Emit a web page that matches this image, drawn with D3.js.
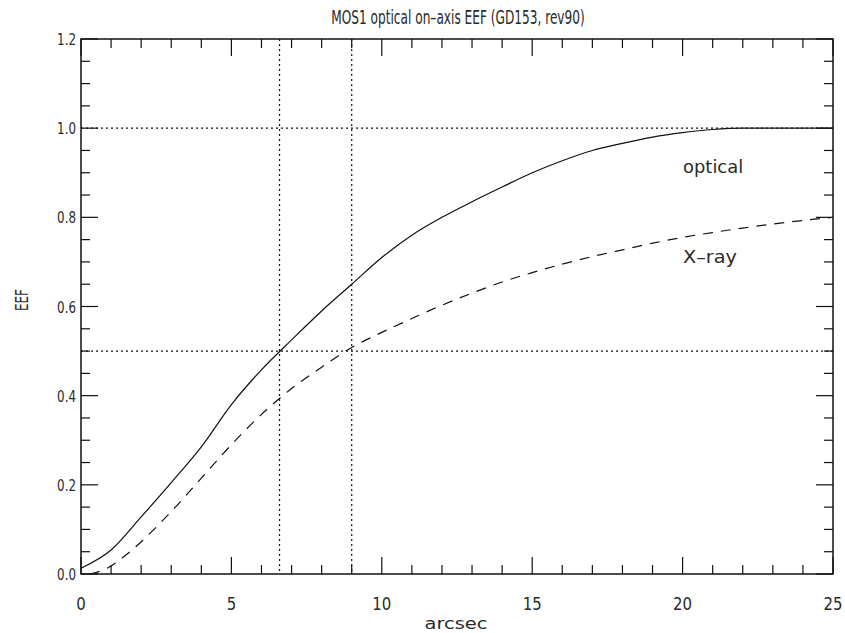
<!DOCTYPE html>
<html>
<head>
<meta charset="utf-8">
<script src="https://cdn.jsdelivr.net/npm/d3@7"></script>
<style>
  body { margin: 0; background: #fff; }
  svg text { font-family: "DejaVu Sans", sans-serif; fill: #2a2a2a; }
</style>
</head>
<body>
<svg id="chart" width="845" height="633"></svg>
<script>
const opticalX = [0, 1, 2, 3, 4, 5, 6, 7, 8, 9, 10, 11, 12, 13, 14, 15, 16, 17, 18, 19, 20, 21, 22, 25];
const opticalY = [0.013, 0.054, 0.128, 0.205, 0.285, 0.38, 0.458, 0.525, 0.59, 0.65, 0.71, 0.76, 0.80, 0.835, 0.868, 0.9, 0.927, 0.95, 0.966, 0.98, 0.99, 0.997, 1.0, 1.0];
const xrayX = [0.3, 0.9, 1.5, 2.5, 3, 4, 5, 6, 7, 8, 9, 10, 11, 12, 13, 14, 15, 16, 17, 18, 19, 20, 21, 22, 23, 24, 25];
const xrayY = [0.0, 0.014, 0.043, 0.105, 0.14, 0.215, 0.29, 0.358, 0.416, 0.464, 0.508, 0.542, 0.573, 0.603, 0.63, 0.655, 0.676, 0.695, 0.712, 0.727, 0.742, 0.755, 0.766, 0.776, 0.785, 0.793, 0.80];
const refX = [6.6, 9.0];
const refY = [0.5, 1.0];
const xTicks = [0, 5, 10, 15, 20, 25];
const yTicks = [0, 0.2, 0.4, 0.6, 0.8, 1.0, 1.2];

(() => {
const svg = d3.select('#chart');
const pLeft = 81, pRight = 833, pTop = 39, pBottom = 574;
const ink = '#111';

const x = d3.scaleLinear().domain([0, 25]).range([pLeft, pRight]);
const y = d3.scaleLinear().domain([0, 1.2]).range([pBottom, pTop]);

// narrow the glyphs a bit, the original uses a condensed vector font
const fit = (sel, perChar) => sel
    .attr('textLength', function () { return this.textContent.length * perChar; })
    .attr('lengthAdjust', 'spacingAndGlyphs');

// box
svg.append('rect')
    .attr('x', pLeft).attr('y', pTop)
    .attr('width', pRight - pLeft).attr('height', pBottom - pTop)
    .attr('fill', 'none').attr('stroke', ink).attr('stroke-width', 1.5);

// ticks on all four sides, pointing inward
const minorX = d3.range(0, 26, 1);
const minorY = d3.range(0, 1.2001, 0.05);
const isMajor = (v, step) => Math.abs(v / step - Math.round(v / step)) < 1e-6;

const ticks = svg.append('g').attr('stroke', ink).attr('stroke-width', 1.2);
minorX.forEach(v => {
    const len = isMajor(v, 5) ? 17 : 9;
    ticks.append('line').attr('x1', x(v)).attr('x2', x(v)).attr('y1', pBottom).attr('y2', pBottom - len);
    ticks.append('line').attr('x1', x(v)).attr('x2', x(v)).attr('y1', pTop).attr('y2', pTop + len);
});
minorY.forEach(v => {
    const len = isMajor(v, 0.2) ? 17 : 9;
    ticks.append('line').attr('y1', y(v)).attr('y2', y(v)).attr('x1', pLeft).attr('x2', pLeft + len);
    ticks.append('line').attr('y1', y(v)).attr('y2', y(v)).attr('x1', pRight).attr('x2', pRight - len);
});

// tick labels
fit(svg.append('g').selectAll('text').data(xTicks).join('text')
    .attr('x', d => x(d)).attr('y', 610)
    .attr('text-anchor', 'middle').attr('font-size', 17)
    .text(d => d), 9.5);
fit(svg.append('g').selectAll('text').data(yTicks).join('text')
    .attr('x', pLeft - 5).attr('y', d => y(d) + 6)
    .attr('text-anchor', 'end').attr('font-size', 16)
    .text(d => d.toFixed(1)), 6.3);

// reference lines
const refs = svg.append('g').attr('stroke', ink).attr('stroke-width', 1.2).attr('stroke-dasharray', '2,3');
refX.forEach(v => refs.append('line').attr('x1', x(v)).attr('x2', x(v)).attr('y1', pTop).attr('y2', pBottom));
refY.forEach(v => refs.append('line').attr('x1', pLeft).attr('x2', pRight).attr('y1', y(v)).attr('y2', y(v)));

// curves
const line = d3.line().x(d => x(d[0])).y(d => y(d[1])).curve(d3.curveMonotoneX);
svg.append('path')
    .attr('d', line(d3.zip(opticalX, opticalY)))
    .attr('fill', 'none').attr('stroke', ink).attr('stroke-width', 1.2);
svg.append('path')
    .attr('d', line(d3.zip(xrayX, xrayY)))
    .attr('fill', 'none').attr('stroke', ink).attr('stroke-width', 1.2)
    .attr('stroke-dasharray', '10,8');

// curve labels
fit(svg.append('text').attr('x', 683).attr('y', 173).attr('font-size', 18).text('optical'), 8.6);
fit(svg.append('text').attr('x', 683).attr('y', 263).attr('font-size', 18).text('X\u2013ray'), 10.8);

// titles
fit(svg.append('text').attr('x', 458).attr('y', 24).attr('text-anchor', 'middle')
    .attr('font-size', 20).text('MOS1 optical on\u2013axis EEF (GD153, rev90)'), 6.5);
fit(svg.append('text').attr('x', 456).attr('y', 629).attr('text-anchor', 'middle')
    .attr('font-size', 16).text('arcsec'), 10.5);
fit(svg.append('text').attr('transform', 'translate(28,300) rotate(-90)')
    .attr('text-anchor', 'middle').attr('font-size', 18).text('EEF'), 7.3);
})();
</script>
</body>
</html>
